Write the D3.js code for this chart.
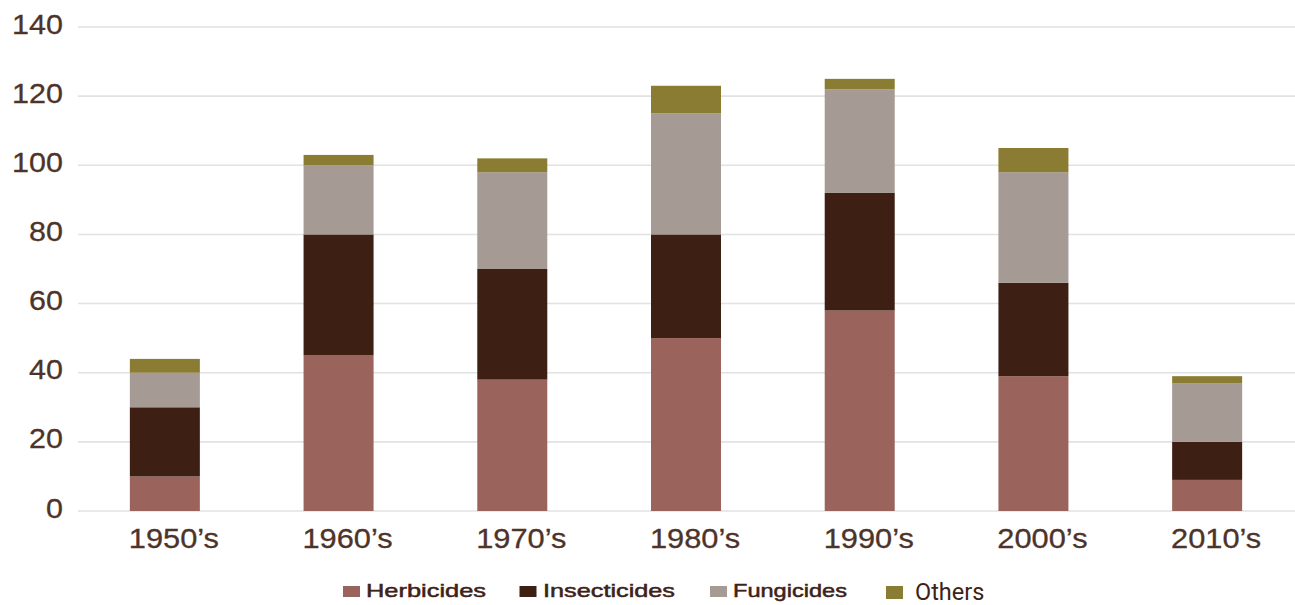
<!DOCTYPE html>
<html><head><meta charset="utf-8">
<script src="https://cdn.jsdelivr.net/npm/d3@7"></script>
<style>html,body{margin:0;padding:0;background:#fff;}svg{display:block;}</style>
</head><body>
<svg id="chart" width="1295" height="605"></svg>
<script>
const categories = ["1950\u2019s","1960\u2019s","1970\u2019s","1980\u2019s","1990\u2019s","2000\u2019s","2010\u2019s"];
const herbicides   = [10, 45, 38, 50, 58, 39, 9];
const insecticides = [20, 35, 32, 30, 34, 27, 11];
const fungicides   = [10, 20, 28, 35, 30, 32, 17];
const others       = [4, 3, 4, 8, 3, 7, 2];
const seriesNames = ["Herbicides","Insecticides","Fungicides","Others"];
const seriesColors = ["#9a645d","#3d1f14","#a59a94","#8b7c33"];
const yTicks = [0,20,40,60,80,100,120,140];

const svg = d3.select("#chart");
const textColor = "#4e3328";
const x = d3.scaleBand().domain(categories).range([78, 1294]).paddingInner(0.597).paddingOuter(0.2985);
const y = d3.scaleLinear().domain([0,140]).range([511, 27]);

// gridlines
svg.append("g").selectAll("line").data(yTicks).join("line")
  .attr("x1", 78).attr("x2", 1295)
  .attr("y1", d => y(d)).attr("y2", d => y(d))
  .attr("stroke", "#e2e2e2").attr("stroke-width", 1.6);

// y labels
svg.append("g").selectAll("text").data(yTicks).join("text")
  .attr("transform", d => `translate(63,${y(d)+6.5}) scale(1.09,1)`)
  .attr("text-anchor","end")
  .attr("font-family","'Liberation Sans', Arial, sans-serif")
  .attr("font-size", 28).attr("fill", textColor)
  .attr("stroke", textColor).attr("stroke-width", 0.3)
  .text(d => d);

// stacked data
const rows = categories.map((c,i) => ({cat:c, Herbicides:herbicides[i], Insecticides:insecticides[i], Fungicides:fungicides[i], Others:others[i]}));
const stack = d3.stack().keys(seriesNames)(rows);
const color = d3.scaleOrdinal().domain(seriesNames).range(seriesColors);

svg.append("g").selectAll("g").data(stack).join("g")
  .attr("fill", d => color(d.key))
  .selectAll("rect").data(d => d).join("rect")
  .attr("x", d => x(d.data.cat))
  .attr("width", x.bandwidth())
  .attr("y", d => y(d[1]))
  .attr("height", d => y(d[0]) - y(d[1]));

// x labels
svg.append("g").selectAll("text").data(categories).join("text")
  .attr("transform", d => `translate(${x(d)+x.bandwidth()/2+9},548) scale(1.1,1)`)
  .attr("text-anchor","middle")
  .attr("font-family","'Liberation Sans', Arial, sans-serif")
  .attr("font-size", 28).attr("fill", textColor)
  .attr("stroke", textColor).attr("stroke-width", 0.3)
  .text(d => d);

// legend
const legendItems = [
  {name:"Herbicides", mx:343, my:586, mw:17, mh:11, tx:366, ty:597, tl:120, font:"'Liberation Sans', Arial, sans-serif", fs:19},
  {name:"Insecticides", mx:519.5, my:586, mw:17, mh:11, tx:543, ty:597, tl:132, font:"'Liberation Sans', Arial, sans-serif", fs:19},
  {name:"Fungicides", mx:710, my:586, mw:17, mh:11, tx:733, ty:597, tl:114, font:"'Liberation Sans', Arial, sans-serif", fs:19},
  {name:"Others", mx:886, my:586, mw:17, mh:13, tx:915, ty:600, tl:null, font:"Roboto, sans-serif", fs:23.5}
];
const lg = svg.append("g");
legendItems.forEach(it => {
  lg.append("rect").attr("x", it.mx).attr("y", it.my).attr("width", it.mw).attr("height", it.mh).attr("fill", color(it.name));
  const t = lg.append("text").attr("x", it.tx).attr("y", it.ty)
    .attr("font-family", it.font).attr("font-size", it.fs).attr("fill", "#3d2218").text(it.name);
  if (it.tl) t.attr("textLength", it.tl).attr("lengthAdjust","spacingAndGlyphs").attr("stroke","#3d2218").attr("stroke-width",0.5);
});
</script>
</body></html>
